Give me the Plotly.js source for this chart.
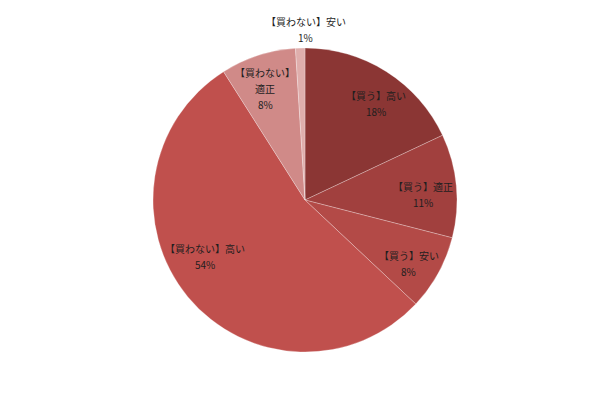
<!DOCTYPE html>
<html>
<head>
<meta charset="utf-8">
<script src="https://cdn.plot.ly/plotly-3.0.1.min.js"></script>
<style>
  body { margin: 0; background: #fff; }
  #chart { width: 610px; height: 400px; }
</style>
</head>
<body>
<div id="chart"></div>
<script>
// categories and values
var labels = ['【買う】高い', '【買う】適正', '【買う】安い', '【買わない】高い', '【買わない】適正', '【買わない】安い'];
var labelLines = [['【買う】高い'], ['【買う】適正'], ['【買う】安い'], ['【買わない】高い'], ['【買わない】', '適正'], ['【買わない】安い']];
var values = [18, 11, 8, 54, 8, 1];
var colors = ['#8b3634', '#a1403e', '#b34a47', '#c0504d', '#d08a88', '#dfaeac'];

// plot area geometry (must match layout margins below)
var W = 610, H = 400, mT = 48, mB = 48;
var cx = W / 2, cy = mT + (H - mT - mB) / 2, R = (H - mT - mB) / 2;
// label placement: radius factor and small pixel nudges, like excel's best fit
var labelRadius = [0.78, 0.78, 0.78, 0.78, 0.78, 1.12];
var labelNudge = [[7, 4], [0, 6], [0, 6], [-9, -19], [-3, 1], [6, 0]];
var lineStep = 16;

var data = [{
  type: 'pie',
  labels: labels,
  values: values,
  sort: false,
  direction: 'clockwise',
  rotation: 0,
  textinfo: 'none',
  marker: { colors: colors, line: { color: 'rgba(255,255,255,0.45)', width: 0.6 } },
  hoverinfo: 'none',
  showlegend: false
}];

var font = { family: '"Noto Sans CJK JP", "Noto Sans CJK SC", sans-serif', size: 10, color: '#1e1e1e' };
var total = values.reduce(function (a, b) { return a + b; }, 0);
var annotations = [];
var acc = 0;
values.forEach(function (v, i) {
  var mid = (acc + v / 2) / total * 2 * Math.PI;
  acc += v;
  var px = cx + Math.sin(mid) * R * labelRadius[i] + labelNudge[i][0];
  var py = cy - Math.cos(mid) * R * labelRadius[i] + labelNudge[i][1];
  var lines = labelLines[i].concat([Math.round(v / total * 100) + '%']);
  lines.forEach(function (t, k) {
    var ly = py + (k - (lines.length - 1) / 2) * lineStep;
    annotations.push({
      xref: 'paper', yref: 'paper',
      x: px / W, y: (H - mB - ly) / (H - mT - mB),
      xanchor: 'center', yanchor: 'middle',
      showarrow: false, text: t, font: font
    });
  });
});

var layout = {
  width: W, height: H,
  margin: { l: 0, r: 0, t: mT, b: mB },
  paper_bgcolor: '#fff',
  annotations: annotations
};

Plotly.newPlot('chart', data, layout, { displayModeBar: false, staticPlot: true });
</script>
</body>
</html>
